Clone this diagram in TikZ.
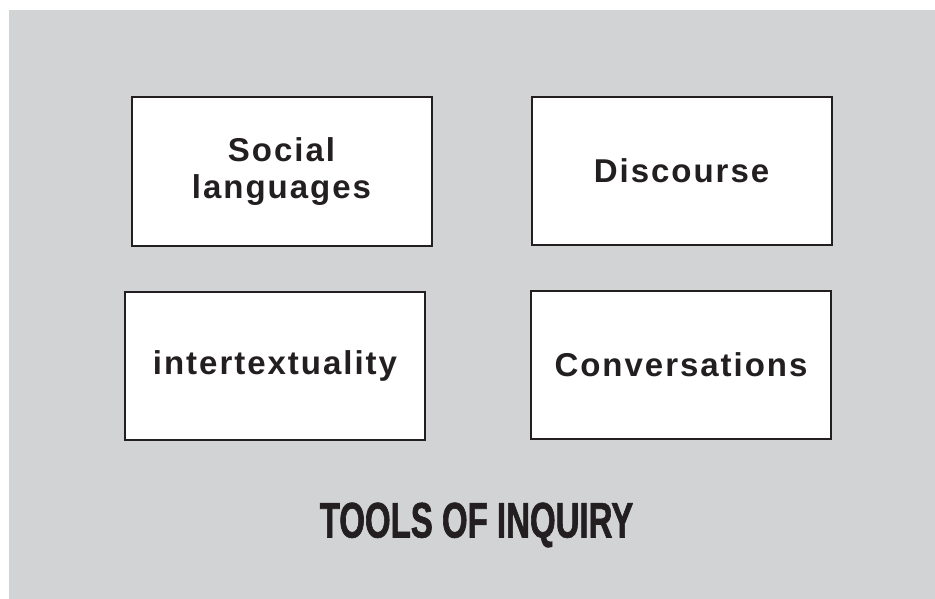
\documentclass[tikz,border=0pt]{standalone}
\usepackage{fontspec}
\newfontfamily\boxfont{Liberation Sans}[LetterSpace=6]
\newfontfamily\titlefont{Liberation Sans}[FakeStretch=0.66,FakeBold=1.2]
\usepackage{tikz}
\usetikzlibrary{calc}

\definecolor{panel}{RGB}{210,211,213}
\definecolor{ink}{RGB}{35,31,32}

\begin{document}
\begin{tikzpicture}[x=1pt,y=-1pt,
      tool/.style={draw=ink,line width=2pt,fill=white,text=ink,
        minimum width=300pt,minimum height=148pt,inner sep=0pt,align=center,
        font=\boxfont\bfseries\fontsize{33}{37}\selectfont}]
      \useasboundingbox (0,0) rectangle (935,599);
      \fill[white] (0,0) rectangle (935,599);
      \fill[panel] (9,10) rectangle (935,599);

      \node[tool] (social) at (281.5, 171.5) {Social\\languages};
      \node[tool] (discourse) at (681.5, 171) {Discourse};
      \node[tool] (intertext) at (275, 366) {intertextuality};
      \node[tool] (convers) at (681, 365) {Conversations};

      \node[text=ink,font=\titlefont\bfseries\fontsize{50}{50}\selectfont]
        (title) at (476.5, 525) {TOOLS OF INQUIRY};
\end{tikzpicture}
\end{document}
